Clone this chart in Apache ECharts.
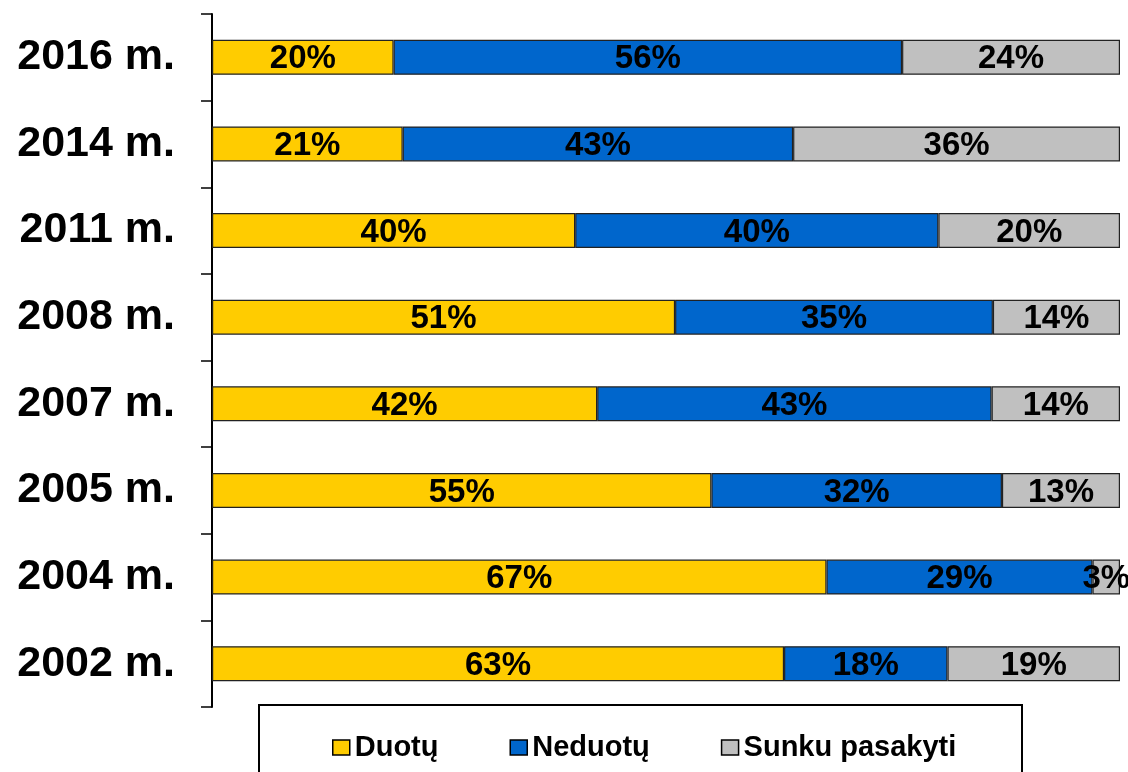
<!DOCTYPE html>
<html>
<head>
<meta charset="utf-8">
<script src="https://cdn.jsdelivr.net/npm/echarts@6/dist/echarts.min.js"></script>
<style>
html,body{margin:0;padding:0;background:#fff;}
#chart{width:1128px;height:772px;}
</style>
</head>
<body>
<div id="chart"></div>
<script>
// Categories bottom to top
var categories = ['2002 m.', '2004 m.', '2005 m.', '2007 m.', '2008 m.', '2011 m.', '2014 m.', '2016 m.'];
var seriesNames = ['Duotų', 'Neduotų', 'Sunku pasakyti'];
var duotu = [63, 67, 55, 42, 51, 40, 21, 20];
var neduotu = [18, 29, 32, 43, 35, 40, 43, 56];
var sunku = [19, 3, 13, 14, 14, 20, 36, 24];
var colors = ['#FFCC00', '#0066CC', '#C0C0C0'];

var raw = [duotu, neduotu, sunku];
var totals = categories.map(function (c, i) { return duotu[i] + neduotu[i] + sunku[i]; });

var FONT = '"Liberation Sans", Arial, sans-serif';

var chart = echarts.init(document.getElementById('chart'));
var series = raw.map(function (arr, s) {
  return {
    name: seriesNames[s],
    type: 'bar',
    stack: 'total',
    barWidth: 35,
    data: arr.map(function (v, i) { return v / totals[i] * 100; }),
    itemStyle: { color: colors[s], borderColor: '#222', borderWidth: 1.2 },
    label: {
      show: true,
      position: 'inside',
      offset: [0, 2],
      color: '#000',
      fontFamily: FONT,
      fontWeight: 'bold',
      fontSize: 33,
      formatter: function (p) { return raw[s][p.dataIndex] + '%'; }
    },
    emphasis: { disabled: true }
  };
});

chart.setOption({
  animation: false,
  backgroundColor: '#fff',
  grid: { left: 212, right: 8, top: 14, bottom: 65, containLabel: false },
  xAxis: { type: 'value', min: 0, max: 100, show: false },
  yAxis: {
    type: 'category',
    data: categories,
    axisLine: { show: true, lineStyle: { color: '#000', width: 2 } },
    axisTick: { show: true, length: 11, lineStyle: { color: '#000', width: 1.5 } },
    axisLabel: {
      color: '#000',
      fontFamily: FONT,
      fontWeight: 'bold',
      fontSize: 43,
      margin: 37
    }
  },
  graphic: [{
    type: 'rect',
    shape: { x: 259, y: 705, width: 763, height: 120 },
    style: { fill: '#fff', stroke: '#000', lineWidth: 2 },
    z: 0
  }],
  legend: {
    left: 332,
    top: 733,
    padding: 0,
    itemGap: 71,
    itemWidth: 17,
    itemHeight: 15,
    icon: 'rect',
    itemStyle: { borderColor: '#000', borderWidth: 1.5 },
    textStyle: { color: '#000', fontFamily: FONT, fontWeight: 'bold', fontSize: 29 },
    data: seriesNames,
    z: 10
  },
  series: series
});
</script>
</body>
</html>
